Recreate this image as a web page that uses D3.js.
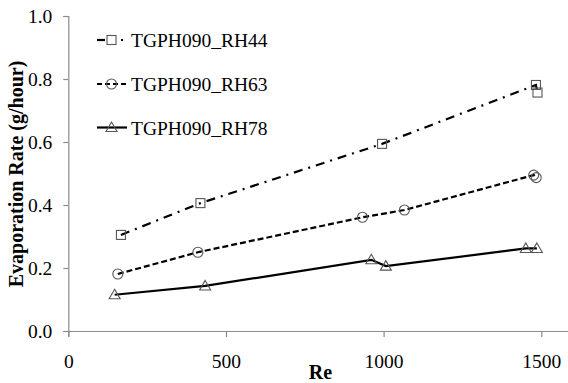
<!DOCTYPE html>
<html><head><meta charset="utf-8">
<script src="https://cdn.jsdelivr.net/npm/d3@7"></script>
<style>body{margin:0;background:#fff}svg{display:block}
svg text{font-family:"Liberation Serif","DejaVu Serif",serif !important;}</style>
</head><body>
<svg id="c" width="568" height="383"></svg>
<script>
const seriesNames = ["TGPH090_RH44", "TGPH090_RH63", "TGPH090_RH78"];
const reRH44 = [167, 419, 995, 1483, 1488];
const evRH44 = [0.305, 0.406, 0.594, 0.781, 0.757];
const reRH63 = [157, 411, 933, 1066, 1476, 1484];
const evRH63 = [0.181, 0.250, 0.361, 0.384, 0.495, 0.487];
const reRH78 = [147, 434, 961, 1007, 1451, 1486];
const evRH78 = [0.115, 0.143, 0.226, 0.206, 0.262, 0.262];
const xTicks = [0, 500, 1000, 1500];
const yTicks = [0.0, 0.2, 0.4, 0.6, 0.8, 1.0];

const svg = d3.select("#c");
const x = d3.scaleLinear().domain([0, 1600]).range([68.3, 572.8]);
const y = d3.scaleLinear().domain([0, 1]).range([331, 16]);
const axisColor = "#8c8c8c";

const xAxis = svg.append("g").attr("transform", "translate(0,331)")
  .call(d3.axisBottom(x).tickValues(xTicks).tickSize(6).tickPadding(17).tickFormat(d3.format("d")));
const yAxis = svg.append("g").attr("transform", "translate(68.3,0)")
  .call(d3.axisLeft(y).tickValues(yTicks).tickSize(5).tickPadding(11).tickFormat(d3.format(".1f")));
[xAxis, yAxis].forEach(a => {
  a.attr("font-family", null).attr("font-size", null);
  a.select(".domain").attr("stroke", axisColor).attr("stroke-width", 1.2);
  a.selectAll(".tick line").attr("stroke", axisColor).attr("stroke-width", 1.2);
  a.selectAll(".tick text").attr("fill", "#000").style("font-size", "19.5px");
});
xAxis.selectAll(".tick text").attr("dy", "0.71em");

svg.append("text").attr("x", 320.5).attr("y", 379).attr("text-anchor", "middle")
  .style("font-size", "20px").style("font-weight", "bold").text("Re");
svg.append("text").attr("transform", "translate(23,174) rotate(-90)").attr("text-anchor", "middle")
  .style("font-size", "20px").style("font-weight", "bold").text("Evaporation Rate (g/hour)");

const series = [
  {name: seriesNames[0], xs: reRH44, ys: evRH44, dash: "9,6,2,6", shape: "square"},
  {name: seriesNames[1], xs: reRH63, ys: evRH63, dash: "6,3", shape: "circle"},
  {name: seriesNames[2], xs: reRH78, ys: evRH78, dash: null, shape: "triangle"}
];
const markerColor = "#555";
function drawMarker(g, shape, cx, cy) {
  if (shape === "square") {
    g.append("rect").attr("x", cx - 4.5).attr("y", cy - 4.5).attr("width", 9).attr("height", 9)
      .attr("fill", "none").attr("stroke", markerColor).attr("stroke-width", 1.1);
  } else if (shape === "circle") {
    g.append("circle").attr("cx", cx).attr("cy", cy).attr("r", 5)
      .attr("fill", "none").attr("stroke", markerColor).attr("stroke-width", 1.1);
  } else {
    g.append("path").attr("d", `M${cx},${cy - 5.5}L${cx + 5.5},${cy + 4}L${cx - 5.5},${cy + 4}Z`)
      .attr("fill", "none").attr("stroke", markerColor).attr("stroke-width", 1.1);
  }
}
const line = d3.line().x(d => x(d[0])).y(d => y(d[1]));
series.forEach(s => {
  const pts = s.xs.map((v, i) => [v, s.ys[i]]);
  const p = svg.append("path").attr("d", line(pts)).attr("fill", "none")
    .attr("stroke", "#000").attr("stroke-width", 2.2);
  if (s.dash) p.attr("stroke-dasharray", s.dash);
  const g = svg.append("g");
  pts.forEach(d => drawMarker(g, s.shape, x(d[0]), y(d[1])));
});

// legend
const legY = [40, 84, 127.5];
series.forEach((s, i) => {
  const ly = legY[i];
  const g = svg.append("g");
  if (s.shape === "square") {
    g.append("line").attr("x1", 97).attr("x2", 105).attr("y1", ly).attr("y2", ly).attr("stroke", "#000").attr("stroke-width", 2.2);
    g.append("line").attr("x1", 121).attr("x2", 123).attr("y1", ly).attr("y2", ly).attr("stroke", "#000").attr("stroke-width", 2.2);
  } else if (s.shape === "circle") {
    g.append("line").attr("x1", 97).attr("x2", 127).attr("y1", ly).attr("y2", ly).attr("stroke", "#000").attr("stroke-width", 2.2).attr("stroke-dasharray", "5,3");
  } else {
    g.append("line").attr("x1", 97).attr("x2", 127).attr("y1", ly).attr("y2", ly).attr("stroke", "#000").attr("stroke-width", 2.2);
  }
  drawMarker(g, s.shape, 111.5, ly);
  g.append("text").attr("x", 131).attr("y", ly + 7).style("font-size", "19.5px").text(s.name);
});
</script>
</body></html>
